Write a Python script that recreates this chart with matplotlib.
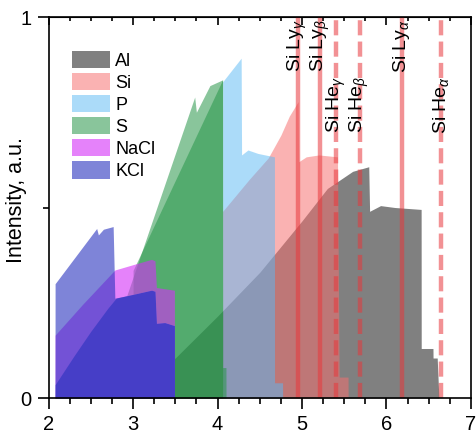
import matplotlib
matplotlib.use('Agg')
import matplotlib.pyplot as plt
from matplotlib.patches import Patch
from matplotlib.ticker import MultipleLocator, FixedLocator

plt.rcParams['font.family'] = ['Liberation Sans', 'DejaVu Sans']
plt.rcParams['mathtext.fontset'] = 'custom'
plt.rcParams['mathtext.rm'] = 'Liberation Sans'
plt.rcParams['mathtext.it'] = 'Liberation Sans:italic'

# spectra (wavelength, intensity)
al_x = [2.8, 3.0, 3.5, 4.0, 4.5, 5.0, 5.3, 5.6, 5.79, 5.80, 5.93, 6.1, 6.41, 6.411, 6.55, 6.551, 6.60, 6.62]
al_y = [0.0, 0.035, 0.105, 0.215, 0.33, 0.465, 0.55, 0.595, 0.607, 0.49, 0.505, 0.50, 0.495, 0.13, 0.13, 0.105, 0.105, 0.0]

si_x = [4.06, 4.061, 4.38, 4.6, 4.75, 4.85, 4.955, 4.96, 5.05, 5.2, 5.42, 5.44, 5.545, 5.546]
si_y = [0.0, 0.49, 0.575, 0.63, 0.69, 0.74, 0.778, 0.62, 0.633, 0.638, 0.633, 0.055, 0.055, 0.0]

p_x = [4.06, 4.061, 4.28, 4.285, 4.36, 4.477, 4.674, 4.675, 4.77, 4.771]
p_y = [0.0, 0.83, 0.892, 0.638, 0.651, 0.642, 0.633, 0.04, 0.04, 0.0]

s1_x = [2.85, 2.851, 3.73, 3.75, 3.91, 4.06, 4.061, 4.10, 4.101]
s1_y = [0.0, 0.22, 0.79, 0.75, 0.82, 0.835, 0.08, 0.08, 0.0]
s2_x = [3.0, 3.001, 4.06, 4.061]
s2_y = [0.0, 0.335, 0.835, 0.0]

nacl_x = [2.077, 2.078, 2.4, 2.785, 3.0, 3.22, 3.26, 3.277, 3.49, 3.491]
nacl_y = [0.0, 0.165, 0.245, 0.336, 0.35, 0.364, 0.36, 0.29, 0.283, 0.0]

kcl1_x = [2.077, 2.078, 2.57, 2.59, 2.65, 2.765, 2.785, 3.0, 3.22, 3.26, 3.277, 3.375, 3.49, 3.491]
kcl1_y = [0.0, 0.30, 0.445, 0.428, 0.443, 0.45, 0.262, 0.272, 0.283, 0.28, 0.196, 0.198, 0.19, 0.0]
kcl2_x = [2.077, 2.078, 2.3, 2.5, 2.7, 2.8, 3.0, 3.22, 3.26, 3.277, 3.375, 3.49, 3.491]
kcl2_y = [0.0, 0.035, 0.11, 0.175, 0.235, 0.262, 0.272, 0.283, 0.28, 0.196, 0.198, 0.19, 0.0]

# Si line positions (Angstrom)
ly_pos = [4.947, 5.217, 6.18]
ly_lab = [r'Si Ly$_\gamma$', r'Si Ly$_\beta$', r'Si Ly$_\alpha$']
he_pos = [5.405, 5.681, 6.648]
he_lab = [r'Si He$_\gamma$', r'Si He$_\beta$', r'Si He$_\alpha$']

names = ['Al', 'Si', 'P', 'S', 'NaCl', 'KCl']
cols = {'Al': '#808080', 'Si': '#f66f6f', 'P': '#59b9f5', 'S': '#28964a',
        'NaCl': '#d52ff7', 'KCl': '#2832be'}
alph = {'Al': 1.0, 'Si': 0.53, 'P': 0.5, 'S': 0.55, 'NaCl': 0.6, 'KCl': 0.6}

fig = plt.figure(figsize=(4.77, 4.34), dpi=100)
ax = fig.add_axes([0.1017, 0.0829, 0.8857, 0.8779])

layers = [('Al', al_x, al_y), ('Si', si_x, si_y), ('P', p_x, p_y),
          ('S', s1_x, s1_y), ('S', s2_x, s2_y)]
for nm, xs, ys in layers:
    ax.fill_between(xs, ys, 0, color=cols[nm], alpha=alph[nm], lw=0)

# KCl sits on a white base so the layers below do not show through it
ax.fill_between(kcl1_x, kcl1_y, 0, color='white', lw=0)

for nm, xs, ys in [('NaCl', nacl_x, nacl_y), ('KCl', kcl1_x, kcl1_y), ('KCl', kcl2_x, kcl2_y)]:
    ax.fill_between(xs, ys, 0, color=cols[nm], alpha=alph[nm], lw=0)

for x, t in zip(ly_pos, ly_lab):
    ax.axvline(x, color='#e8383c', alpha=0.55, lw=3.2)
    ax.text(x, 0.995, t, rotation=90, ha='center', va='top', fontsize=14)
for x, t in zip(he_pos, he_lab):
    ax.axvline(x, color='#e8383c', alpha=0.55, lw=3.2, dashes=(3.4, 1.4))
    ax.text(x, 0.845, t, rotation=90, ha='center', va='top', fontsize=14)

handles = [Patch(facecolor=cols[n], alpha=alph[n], edgecolor='none', label=n) for n in names]
ax.legend(handles=handles, loc='upper left', bbox_to_anchor=(0.0556, 0.911),
          frameon=False, fontsize=13, borderpad=0, borderaxespad=0,
          handlelength=2.1, handleheight=1.1, labelspacing=0.18, handletextpad=0.3)

ax.set_xlim(2, 7)
ax.set_ylim(0, 1)
ax.set_xticks(range(2, 8))
ax.xaxis.set_minor_locator(MultipleLocator(0.25))
ax.set_yticks([0, 1])
ax.yaxis.set_minor_locator(FixedLocator([0.5]))
ax.tick_params(which='major', direction='out', length=8, width=1.2, labelsize=14.5, pad=4)
ax.tick_params(which='minor', direction='out', length=4, width=1.2)
for sp in ax.spines.values():
    sp.set_linewidth(1.2)

top = ax.secondary_xaxis('top')
top.set_xticks(range(2, 8))
top.xaxis.set_minor_locator(MultipleLocator(0.25))
top.tick_params(which='major', direction='in', length=6, width=1.2, labeltop=False)
top.tick_params(which='minor', direction='in', length=3, width=1.2)

ax.set_ylabel('Intensity, a.u.', fontsize=15.5)
ax.yaxis.set_label_coords(-0.05, 0.52)

fig.savefig('out.png', dpi=100)
